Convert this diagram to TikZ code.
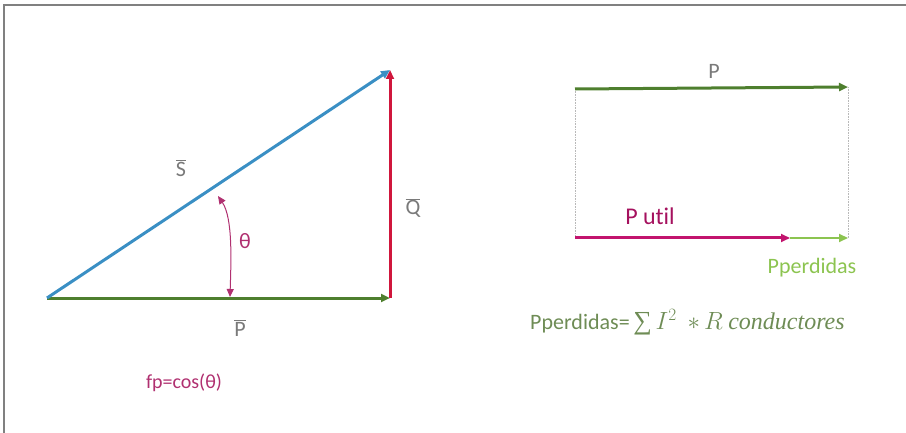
\documentclass[tikz,border=0pt]{standalone}
\usepackage{fontspec}
\setmainfont{Carlito}[Ligatures=NoCommon]
\newfontfamily\formfont{Liberation Serif}
\newfontfamily\symfont{DejaVu Sans}
\usetikzlibrary{arrows.meta}
\definecolor{pgreen}{HTML}{4E7F2E}
\definecolor{sblue}{HTML}{3A8FC4}
\definecolor{qred}{HTML}{D0163C}
\definecolor{thmag}{HTML}{B03070}
\definecolor{umag}{HTML}{C2146E}
\definecolor{lgreen}{HTML}{8CC450}
\definecolor{fgreen}{HTML}{6E8C55}
\definecolor{frame}{HTML}{808080}
\definecolor{lblgray}{HTML}{7A7A7A}
\tikzset{
  vec/.style={line width=3pt,-{Triangle[length=9pt,width=8pt]}},
  guide/.style={densely dotted, line width=0.6pt, color=gray!55},
  lbl/.style={inner sep=0pt, font=\fontsize{22}{24}\selectfont}
}
\begin{document}
\begin{tikzpicture}[x=1pt,y=-1pt]
\useasboundingbox (0,0) rectangle (906,433);
\draw[frame, line width=2pt] (4,433) -- (4,5) -- (906,5);
% left triangle
\coordinate (A) at (47,298);
\coordinate (B) at (390,298);
\coordinate (C) at (390,70);
\draw[vec, pgreen] (A) -- (B);
\draw[vec, qred] (B) -- (C);
\draw[vec, sblue] (A) -- (C);
\coordinate (t1) at (218,196);
\coordinate (t2) at (230,297);
\draw[thmag, line width=1pt, {Triangle[length=8pt,width=7pt]}-{Triangle[length=8pt,width=7pt]}] (t1) .. controls (233,218) and (231,262) .. (t2);
\node[lbl, text=lblgray] (sl) at (181,168) {$\overline{\hbox{S}}$};
\node[lbl, text=lblgray] (ql) at (413,208) {$\overline{\hbox{Q}}$};
\node[lbl, text=lblgray] (pl) at (240,328) {$\overline{\hbox{P}}$};
\node[lbl, text=thmag] (th) at (245,241) {θ};
\node[lbl, text=thmag, font=\fontsize{20}{22}\selectfont] (fp) at (184,383) {fp=cos(θ)};
% right diagram
\coordinate (P0) at (575,89);
\coordinate (P1) at (848,87);
\coordinate (U0) at (575,238);
\coordinate (U1) at (790,238);
\coordinate (L1) at (848,238);
\draw[guide] (P0) -- (U0);
\draw[guide] (P1) -- (L1);
\draw[vec, pgreen] (P0) -- (P1);
\draw[vec, umag] (U0) -- (U1);
\draw[vec, lgreen, line width=2.4pt] (U1) -- (L1);
\node[lbl, text=lblgray] (plab) at (714,71) {P};
\node[lbl, text=umag!85!black, font=\fontsize{24}{26}\selectfont] (ulab) at (650,216) {P util};
\node[lbl, text=lgreen] (llab) at (812,268) {Pperdidas};
\node[lbl, text=fgreen, anchor=west] (form) at (530,322) {Pperdidas=\,{\formfont\fontsize{26}{28}\selectfont ∑}\,{\fontsize{24}{26}\selectfont$I^{2}$\ \ $\ast\, R$ {\formfont\itshape conductores}}};
\end{tikzpicture}
\end{document}
